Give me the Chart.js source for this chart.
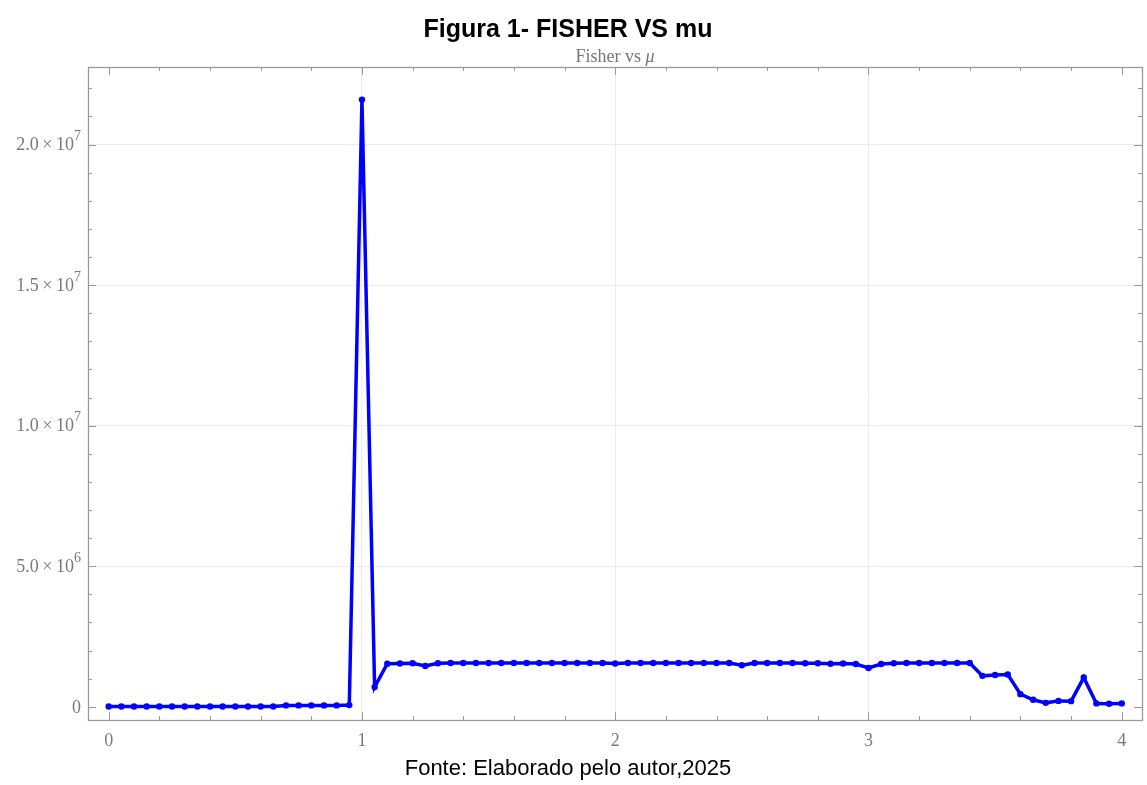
<!DOCTYPE html>
<html>
<head>
<meta charset="utf-8">
<script src="https://cdn.jsdelivr.net/npm/chart.js@4/dist/chart.umd.min.js"></script>
<style>
  html, body { margin: 0; padding: 0; background: #fff; }
  #wrap { position: relative; width: 1147px; height: 785px; }
  #wrap canvas { position: absolute; left: 0; top: 0; }
  .txt { position: absolute; white-space: nowrap; transform: translate(-50%, -50%); }
  #title { left: 568px; top: 28px; font: bold 25px "Liberation Sans", Arial, sans-serif; color: #000; }
  #sub { left: 615px; top: 56px; font: 18px "Liberation Serif", "Times New Roman", serif; color: #777; }
  #foot { left: 568px; top: 768px; font: 22px "Liberation Sans", Arial, sans-serif; color: #000; }
</style>
</head>
<body>
<div id="wrap">
  <canvas id="chart-fisher" width="1147" height="785"></canvas>
  <div class="txt" id="title">Figura 1- FISHER VS mu</div>
  <div class="txt" id="sub">Fisher vs <i>μ</i></div>
  <div class="txt" id="foot">Fonte: Elaborado pelo autor,2025</div>
</div>
<script>
// mu values (x)
const muValues = [
  0.00, 0.05, 0.10, 0.15, 0.20, 0.25, 0.30, 0.35, 0.40, 0.45,
  0.50, 0.55, 0.60, 0.65, 0.70, 0.75, 0.80, 0.85, 0.90, 0.95,
  1.00, 1.05, 1.10, 1.15, 1.20, 1.25, 1.30, 1.35, 1.40, 1.45,
  1.50, 1.55, 1.60, 1.65, 1.70, 1.75, 1.80, 1.85, 1.90, 1.95,
  2.00, 2.05, 2.10, 2.15, 2.20, 2.25, 2.30, 2.35, 2.40, 2.45,
  2.50, 2.55, 2.60, 2.65, 2.70, 2.75, 2.80, 2.85, 2.90, 2.95,
  3.00, 3.05, 3.10, 3.15, 3.20, 3.25, 3.30, 3.35, 3.40, 3.45,
  3.50, 3.55, 3.60, 3.65, 3.70, 3.75, 3.80, 3.85, 3.90, 3.95,
  4.00
];

// Fisher information, in millions
const fisherMillions = [
  0.01, 0.01, 0.01, 0.01, 0.01, 0.01, 0.01, 0.01, 0.01, 0.01,
  0.01, 0.01, 0.01, 0.01, 0.05, 0.05, 0.05, 0.05, 0.05, 0.06,
  21.6, 0.70, 1.53, 1.54, 1.55, 1.45, 1.55, 1.56, 1.56, 1.56,
  1.56, 1.56, 1.56, 1.56, 1.56, 1.56, 1.56, 1.56, 1.56, 1.56,
  1.54, 1.56, 1.56, 1.56, 1.56, 1.56, 1.56, 1.56, 1.56, 1.56,
  1.48, 1.56, 1.56, 1.56, 1.56, 1.55, 1.55, 1.53, 1.54, 1.52,
  1.38, 1.52, 1.55, 1.56, 1.56, 1.56, 1.56, 1.56, 1.56, 1.10,
  1.13, 1.15, 0.45, 0.25, 0.14, 0.21, 0.20, 1.04, 0.12, 0.11,
  0.12
];

const xMajorTicks = [0, 1, 2, 3, 4];
const xMinorStep = 0.2;
const yMajorTicks = [0, 5e6, 1e7, 1.5e7, 2e7];
const yMinorStep = 1e6;

const axisGray = '#9a9a9a';
const labelGray = '#7a7a7a';
const gridGray = '#ececec';

function yLabelParts(v) {
  if (v <= 0) return ['0', ''];
  const exp = Math.floor(Math.log10(v) + 1e-9);
  const mant = (v / Math.pow(10, exp)).toFixed(1);
  return [mant + '\u2009\u00d7\u200910', String(exp)];
}

// frame with inward ticks, Mathematica style
const framePlugin = {
  id: 'frame',
  beforeDatasetsDraw(chart) {
    const { ctx, chartArea: a, scales: { x, y } } = chart;
    ctx.save();
    ctx.strokeStyle = axisGray;
    ctx.lineWidth = 1;
    ctx.beginPath();
    for (let i = 0; i <= 20; i++) {
      const v = i * xMinorStep;
      const px = Math.round(x.getPixelForValue(v)) + 0.5;
      const len = i % 5 === 0 ? 8 : 4;
      ctx.moveTo(px, a.bottom); ctx.lineTo(px, a.bottom - len);
      ctx.moveTo(px, a.top); ctx.lineTo(px, a.top + len);
    }
    for (let i = 0; i <= 22; i++) {
      const v = i * yMinorStep;
      const py = Math.round(y.getPixelForValue(v)) + 0.5;
      const len = i % 5 === 0 ? 8 : 4;
      ctx.moveTo(a.left, py); ctx.lineTo(a.left + len, py);
      ctx.moveTo(a.right, py); ctx.lineTo(a.right - len, py);
    }
    ctx.stroke();
    ctx.lineWidth = 1.3;
    ctx.strokeRect(Math.round(a.left) + 0.5, Math.round(a.top) + 0.5,
      Math.round(a.right - a.left), Math.round(a.bottom - a.top));

    // y tick labels with superscript exponent
    ctx.fillStyle = labelGray;
    ctx.textBaseline = 'middle';
    ctx.textAlign = 'right';
    y.ticks.forEach(t => {
      const py = y.getPixelForValue(t.value);
      const [m, e] = yLabelParts(t.value);
      ctx.font = '14px "Liberation Serif", serif';
      const ew = e ? ctx.measureText(e).width : 0;
      const right = a.left - 7;
      if (e) ctx.fillText(e, right, py - 8);
      ctx.font = '18px "Liberation Serif", serif';
      ctx.fillText(m, right - ew, py + 1);
    });
    ctx.restore();
  }
};

new Chart(
  document.getElementById('chart-fisher'),
  {
    type: 'line',
    data: {
      datasets: [
        {
          label: 'Fisher',
          data: muValues.map((mu, i) => ({ x: mu, y: fisherMillions[i] * 1e6 })),
          borderColor: '#0000ff',
          backgroundColor: '#0000ff',
          borderWidth: 3.5,
          pointRadius: 3.2,
          pointBorderWidth: 0,
          tension: 0
        }
      ]
    },
    options: {
      responsive: false,
      animation: false,
      layout: { padding: { left: 0, top: 67, right: 5, bottom: 0 } },
      plugins: {
        legend: { display: false },
        tooltip: { enabled: false }
      },
      scales: {
        x: {
          type: 'linear',
          min: -0.0817,
          max: 4.08,
          afterFit: (s) => { s.height = 65; },
          afterBuildTicks: (s) => { s.ticks = xMajorTicks.map(v => ({ value: v })); },
          border: { display: false },
          grid: {
            drawTicks: false,
            color: (c) => (c.tick && [1, 2, 3].includes(c.tick.value)) ? gridGray : 'rgba(0,0,0,0)'
          },
          ticks: {
            padding: 10,
            color: labelGray,
            font: { family: '"Liberation Serif", serif', size: 18 },
            callback: (v) => String(v)
          }
        },
        y: {
          min: -0.47e6,
          max: 22.76e6,
          afterFit: (s) => { s.width = 88; },
          afterBuildTicks: (s) => { s.ticks = yMajorTicks.map(v => ({ value: v })); },
          border: { display: false },
          grid: {
            drawTicks: false,
            color: (c) => (c.tick && c.tick.value > 0) ? gridGray : 'rgba(0,0,0,0)'
          },
          ticks: { display: false }
        }
      }
    },
    plugins: [framePlugin]
  }
);
</script>
</body>
</html>
